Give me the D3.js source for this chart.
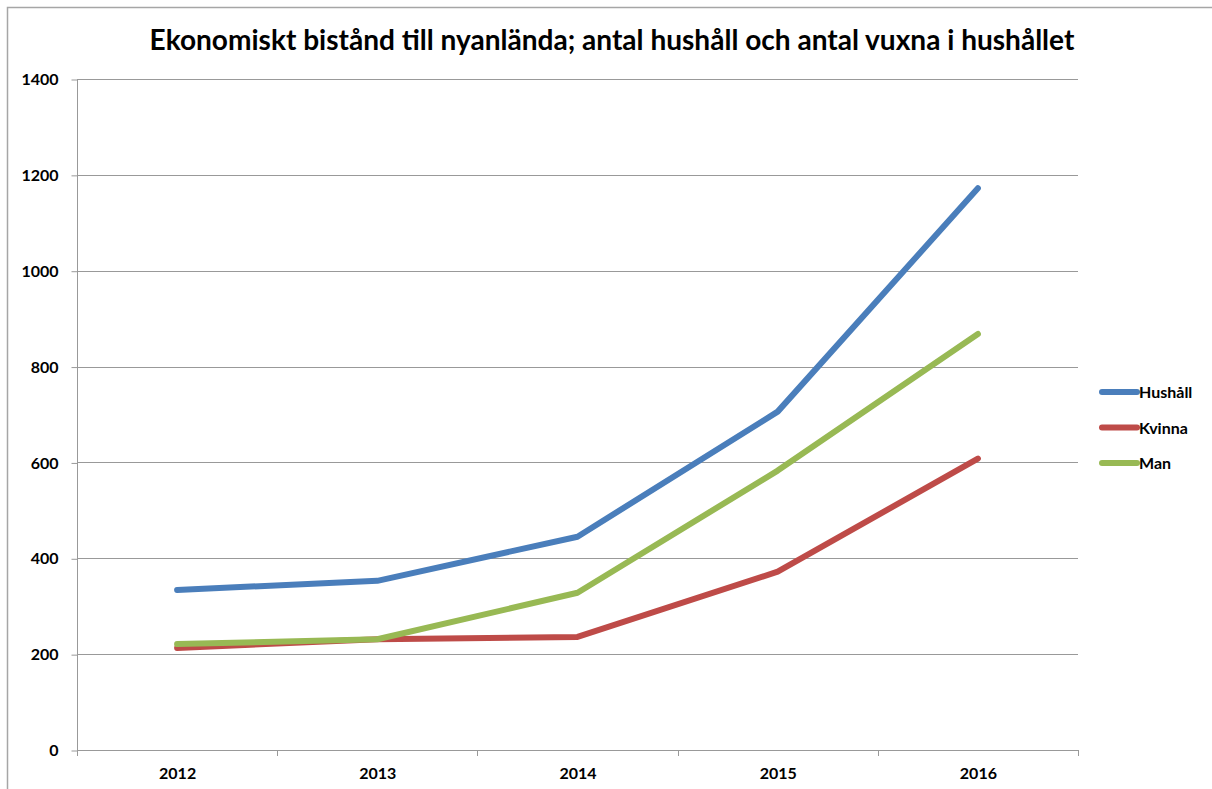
<!DOCTYPE html>
<html>
<head>
<meta charset="utf-8">
<script src="https://cdn.jsdelivr.net/npm/d3@7"></script>
<style>
  body { margin: 0; background: #fff; }
  text { font-family: Lato, "Open Sans", sans-serif; font-weight: bold; fill: #000; }
</style>
</head>
<body>
<script>
const years = ['2012', '2013', '2014', '2015', '2016']
const hushall = [334, 353, 445, 706, 1172]
const kvinna = [213, 231, 236, 372, 608]
const man = [221, 231, 328, 583, 868]
const yTicks = [0, 200, 400, 600, 800, 1000, 1200, 1400]
const seriesNames = ['Hushåll', 'Kvinna', 'Man']
const seriesColors = ['#4a7ebb', '#be4b48', '#98b954']

const m = { width: 1212, height: 789 }
const plot = { left: 77, right: 1078, top: 79, bottom: 750 }

const svg = d3.select('body').append('svg')
    .attr('width', m.width)
    .attr('height', m.height)

// outer frame
svg.append('rect')
    .attr('x', 7.5).attr('y', 7.5)
    .attr('width', 1240).attr('height', 820)
    .attr('fill', 'none')
    .attr('stroke', '#a6a6a6')
    .attr('stroke-width', 1.5)

const x = d3.scaleBand().domain(years).range([plot.left, plot.right])
const y = d3.scaleLinear().domain([0, 1400]).range([plot.bottom, plot.top])

// gridlines
svg.append('g')
    .selectAll('line')
    .data(yTicks.filter(d => d > 0))
    .enter()
    .append('line')
    .attr('x1', plot.left).attr('x2', plot.right)
    .attr('y1', d => Math.round(y(d)) + 0.5)
    .attr('y2', d => Math.round(y(d)) + 0.5)
    .attr('stroke', '#999')

// y axis
const yAxis = svg.append('g')
    .attr('transform', `translate(${plot.left + 0.5},0.5)`)
    .call(d3.axisLeft(y).tickValues(yTicks).tickFormat(d3.format('d')).tickSize(6).tickPadding(13))
yAxis.select('.domain').attr('stroke', '#999').attr('d', `M0,${plot.top}V${plot.bottom}`)
yAxis.selectAll('.tick line').attr('stroke', '#999')
yAxis.selectAll('.tick text')
    .style('font-size', '16px')
    .style('font-family', 'Lato, sans-serif')
    .attr('font-weight', 'bold')

// x axis
const xAxis = svg.append('g')
    .attr('transform', `translate(0.5,${plot.bottom + 0.5})`)
    .call(d3.axisBottom(x).tickSize(0).tickPadding(17))
xAxis.select('.domain').attr('stroke', '#999').attr('d', `M${plot.left},0H${plot.right}`)
xAxis.selectAll('.tick text')
    .style('font-size', '16px')
    .style('font-family', 'Lato, sans-serif')
    .attr('font-weight', 'bold')

// x tick marks at band edges
const edges = years.map(d => x(d)).concat([x(years[years.length - 1]) + x.bandwidth()])
svg.append('g')
    .selectAll('line')
    .data(edges)
    .enter()
    .append('line')
    .attr('x1', d => Math.round(d) + 0.5).attr('x2', d => Math.round(d) + 0.5)
    .attr('y1', plot.bottom).attr('y2', plot.bottom + 6)
    .attr('stroke', '#999')

// lines
const allSeries = [hushall, kvinna, man]
const line = d3.line()
    .x((d, i) => x(years[i]) + x.bandwidth() / 2)
    .y(d => y(d))

// draw in order Hushåll, Kvinna, Man (green on top)
allSeries.forEach((vals, i) => {
    svg.append('path')
        .datum(vals)
        .attr('d', line)
        .attr('fill', 'none')
        .attr('stroke', seriesColors[i])
        .attr('stroke-width', 6)
        .attr('stroke-linecap', 'round')
        .attr('stroke-linejoin', 'round')
})

// legend
const legend = svg.append('g')
seriesNames.forEach((name, i) => {
    const ly = 392 + i * 35.5
    legend.append('line')
        .attr('x1', 1102).attr('x2', 1137)
        .attr('y1', ly).attr('y2', ly)
        .attr('stroke', seriesColors[i])
        .attr('stroke-width', 6)
        .attr('stroke-linecap', 'round')
    legend.append('text')
        .attr('x', 1139).attr('y', ly + 6)
        .style('font-size', '16px')
        .text(name)
})

// title
const title = svg.append('text')
    .attr('x', 612).attr('y', 50)
    .attr('text-anchor', 'middle')
    .style('font-size', '25px')
    .text('Ekonomiskt bistånd till nyanlända; antal hushåll och antal vuxna i hushållet')
// fit title width to reference
const tw = title.node().getComputedTextLength()
title.style('font-size', (25 * 925 / tw) + 'px')
</script>
</body>
</html>
